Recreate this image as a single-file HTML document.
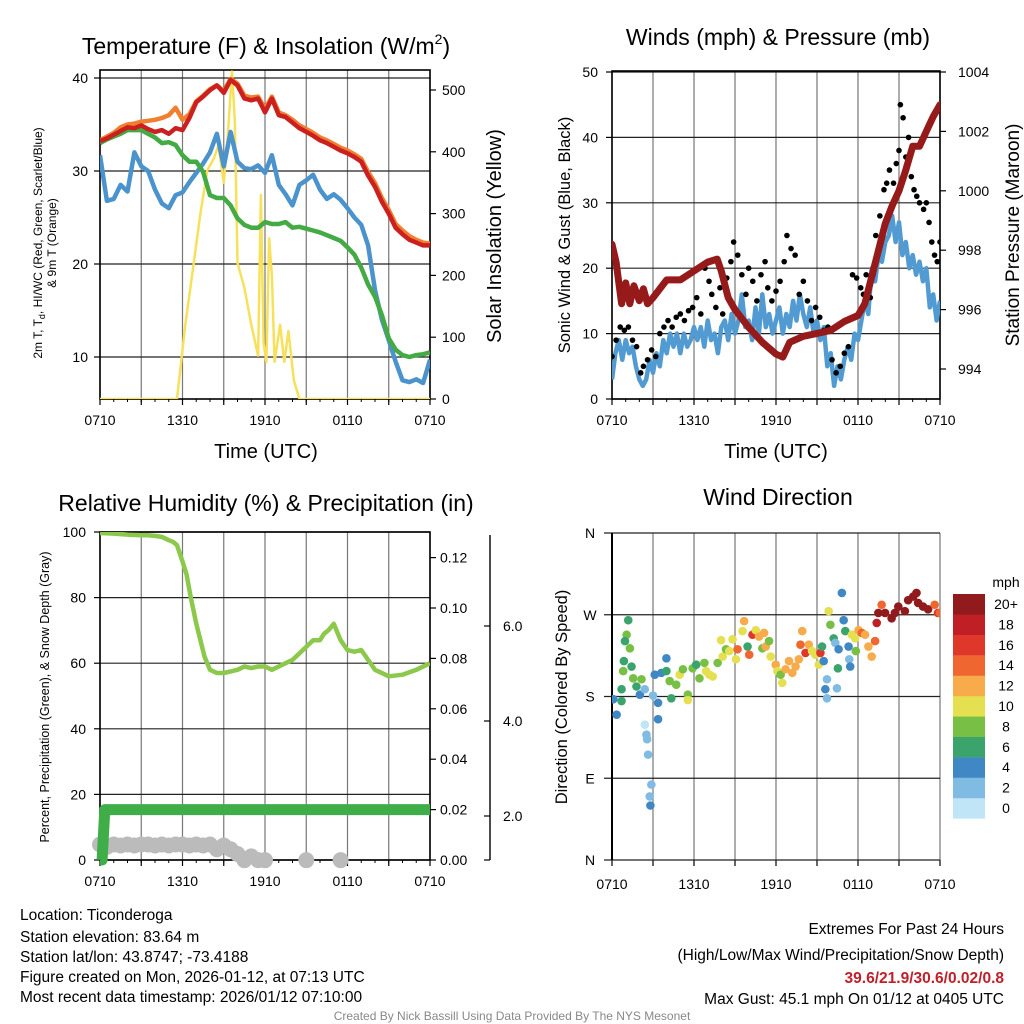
<!DOCTYPE html>
<html><head><meta charset="utf-8"><style>
html,body{margin:0;padding:0;background:#fff;}
svg{display:block;font-family:"Liberation Sans",Arial,sans-serif;}
</style></head><body>
<svg id="fig" width="1024" height="1024" viewBox="0 0 1024 1024" xmlns="http://www.w3.org/2000/svg">
<defs>
<clipPath id="c1"><rect x="100" y="70" width="330" height="329"/></clipPath>
<clipPath id="c2"><rect x="612" y="71" width="328" height="328"/></clipPath>
<clipPath id="c3"><rect x="100" y="532" width="330" height="328"/></clipPath>
<clipPath id="c4"><rect x="612" y="533" width="328" height="327"/></clipPath>
</defs>
<rect width="1024" height="1024" fill="#fff"/>
<text x="266" y="54" font-size="23" text-anchor="middle">Temperature (F) &amp; Insolation (W/m<tspan font-size="14" dy="-10">2</tspan><tspan dy="10">)</tspan></text>
<text x="778" y="45" font-size="23" text-anchor="middle">Winds (mph) &amp; Pressure (mb)</text>
<text x="266" y="511" font-size="23" text-anchor="middle">Relative Humidity (%) &amp; Precipitation (in)</text>
<text x="778" y="505" font-size="23" text-anchor="middle">Wind Direction</text>
<text transform="translate(42,243) rotate(-90)" font-size="12" text-anchor="middle">2m T, T<tspan font-size="9" dy="3">d</tspan><tspan dy="-3">, HI/WC (Red, Green, Scarlet/Blue)</tspan></text>
<text transform="translate(56,243) rotate(-90)" font-size="12" text-anchor="middle">&amp; 9m T (Orange)</text>
<text transform="translate(501,236) rotate(-90)" font-size="20" text-anchor="middle">Solar Insolation (Yellow)</text>
<text x="266" y="458" font-size="20" text-anchor="middle">Time (UTC)</text>
<text transform="translate(570,235) rotate(-90)" font-size="16.5" text-anchor="middle">Sonic Wind &amp; Gust (Blue, Black)</text>
<text transform="translate(1019,235) rotate(-90)" font-size="19" text-anchor="middle">Station Pressure (Maroon)</text>
<text x="776" y="458" font-size="20" text-anchor="middle">Time (UTC)</text>
<text transform="translate(49,697) rotate(-90)" font-size="12.5" text-anchor="middle">Percent, Precipitation (Green), &amp; Snow Depth (Gray)</text>
<text transform="translate(567,697) rotate(-90)" font-size="16.5" text-anchor="middle">Direction (Colored By Speed)</text>
<text x="1006" y="587" font-size="14" text-anchor="middle">mph</text>
<g font-size="15.5">
<text x="20" y="920">Location: Ticonderoga</text>
<text x="20" y="942">Station elevation: 83.64 m</text>
<text x="20" y="962">Station lat/lon: 43.8747; -73.4188</text>
<text x="20" y="982">Figure created on Mon, 2026-01-12, at 07:13 UTC</text>
<text x="20" y="1002">Most recent data timestamp: 2026/01/12 07:10:00</text>
</g>
<g font-size="15.5" text-anchor="end">
<text x="1004" y="934">Extremes For Past 24 Hours</text>
<text x="1004" y="960">(High/Low/Max Wind/Precipitation/Snow Depth)</text>
<text x="1004" y="983" fill="#c0202a" font-weight="bold">39.6/21.9/30.6/0.02/0.8</text>
<text x="1004" y="1004">Max Gust: 45.1 mph On 01/12 at 0405 UTC</text>
</g>
<text x="512" y="1020" font-size="12" fill="#888" text-anchor="middle">Created By Nick Bassill Using Data Provided By The NYS Mesonet</text>
</svg>
<script>
// ---------- data ----------
var xTickLabels = ["0710","1310","1910","0110","0710"];
var tT = [0,0.5,1,1.5,2,2.5,3,3.5,4,4.5,5,5.5,6,6.5,7,7.5,8,8.5,9,9.5,10,10.5,11,11.5,12,12.5,13,13.5,14,14.5,15,15.5,16,16.5,17,17.5,18,18.5,19,19.5,20,20.5,21,21.5,22,22.5,23,23.5,24];
var tempRed = [33.2,33.5,33.9,34.3,34.7,34.6,34.9,34.5,34.2,34.4,34,34.6,34.4,35.7,37.4,38,38.7,39.2,38.4,39.8,39.2,37.8,37.6,37.8,36.3,37.8,36,35.8,35.2,34.6,34.2,33.8,33.3,33,32.6,32.2,31.9,31.5,31,29.5,28.3,26.7,25.4,23.9,23.2,22.6,22.3,22,22];
var tempOrange = [33.3,33.7,34.1,34.7,35,35.1,35.3,35.4,35.5,35.7,36,36.8,35.5,36.1,37.5,38.1,38.8,39.2,38.6,39.9,39.4,38.1,37.9,38,36.7,38,36.3,36,35.5,34.9,34.5,34.1,33.6,33.3,32.9,32.5,32.2,31.8,31.3,29.9,28.7,27.1,25.8,24.3,23.6,23,22.6,22.3,22.2];
var dewGreen = [33,33.4,33.7,34,34.4,34.4,34.4,34,33.6,33,33.1,32.8,31.7,31,31,29.9,27.4,27.1,27.1,26.3,24.9,24.2,23.9,23.9,24.5,24.3,24.3,24.5,23.9,24,23.8,23.6,23.4,23.1,22.8,22.5,21.8,21,19.6,17.8,16.5,14.5,12,10.8,10.2,10,10.2,10.3,10.5];
var windChillBlue = [31.7,26.8,27,28.5,27.8,32,30.5,30,28,26.5,26,27.4,27.7,28.8,29.8,30.8,32,34,30.5,34.2,31,30.3,30.2,30.6,29.8,31.7,28.5,27.5,26.3,28.5,29,29.6,28,27,27.5,26.9,26,25,24.2,22,17.2,14,11.8,9.5,7.5,7.3,7.6,7.2,9.7];
var tSolar = [0,5.6,6.2,6.8,7.3,7.8,8.3,8.6,9,9.3,9.6,9.8,10,10.5,11,11.5,11.7,11.9,12.1,12.3,12.5,12.7,13.1,13.4,13.7,14.1,14.5,24];
var solar = [0,0,120,217,300,370,390,410,350,430,530,450,220,180,120,70,330,90,60,260,200,60,120,60,110,30,0,0];
var tempTicks = [10,20,30,40];
var solarTicks = [0,100,200,300,400,500];

var tW = [0,0.25,0.5,0.75,1,1.25,1.5,1.75,2,2.25,2.5,2.75,3,3.25,3.5,3.75,4,4.25,4.5,4.75,5,5.25,5.5,5.75,6,6.25,6.5,6.75,7,7.25,7.5,7.75,8,8.25,8.5,8.75,9,9.25,9.5,9.75,10,10.25,10.5,10.75,11,11.25,11.5,11.75,12,12.25,12.5,12.75,13,13.25,13.5,13.75,14,14.25,14.5,14.75,15,15.25,15.5,15.75,16,16.25,16.5,16.75,17,17.25,17.5,17.75,18,18.25,18.5,18.75,19,19.25,19.5,19.75,20,20.25,20.5,20.75,21,21.25,21.5,21.75,22,22.25,22.5,22.75,23,23.25,23.5,23.75,24];
var windSpeed = [3,7,9,6,9,7,8,5,3,2,3,6,4,7,5,9,7,10,8,10,7,10,8,9,11,9,11,8,12,9,10,7,11,12,9,13,10,12,16,11,12,9,14,10,16,11,13,10,12,14,10,13,11,15,12,16,13,11,14,10,12,9,11,5,7,2,5,3,6,8,6,10,9,12,15,13,20,18,22,21,24,25,28,24,27,22,24,20,22,19,21,18,20,14,16,12,15];
var tGust = [0,0.3,0.6,0.9,1.2,1.5,1.8,2.1,2.3,2.6,2.9,3.2,3.5,3.8,4.1,4.4,4.7,5,5.3,5.6,5.9,6.2,6.5,6.8,7.1,7.3,7.6,7.9,8.1,8.4,8.7,8.9,9.2,9.5,9.8,10,10.3,10.6,10.9,11.2,11.4,11.7,12,12.3,12.6,12.8,13.1,13.4,13.7,14,14.3,14.6,14.9,15.2,15.5,15.8,16.1,16.4,16.7,17,17.3,17.6,17.9,18.2,18.4,18.6,18.9,19.1,19.3,19.6,19.9,20.1,20.3,20.6,20.8,21,21.1,21.3,21.5,21.7,21.9,22.1,22.3,22.5,22.8,23,23.2,23.4,23.6,23.8,24];
var gust = [6.5,9,11,10.5,11,9,8,4,5,6,7.5,6.5,10,11,12,11,12.5,13,12,13.5,14,15.5,13,20,18,16,14,17,13,18.5,21,24,22,19,16,20,18,15,19,21,17,15,16.5,18,21,25,23,22,16,18,15,12,14,12.5,10.5,11,6,4,5,7,8,19,18.5,17,16,19,15.5,19,25,28,32,33,35,33,36,38,45,43,37,40,34,32,31,30,29,30,27,24,22,21,24];
var tP = [0,0.3,0.7,1,1.3,1.6,2,2.3,2.6,3,4,5,6,7,7.7,8,8.5,9,10,11,12,12.5,13,14,15,16,17,18,18.5,19,19.5,20,20.5,21,21.5,22,22.5,23,23.5,24];
var pressure = [998.2,997.6,996.2,996.9,996.2,996.8,996.3,996.7,996.2,996.4,997,997,997.3,997.6,997.7,997.3,996.4,996,995.4,994.9,994.5,994.4,994.9,995.1,995.2,995.3,995.6,995.8,996.2,997.1,998,998.9,999.5,1000,1000.7,1001.5,1001.5,1002,1002.5,1002.9];
var windTicks = [0,10,20,30,40,50];
var pressureTicks = [994,996,998,1000,1002,1004];

var tR = [0,1,2,3,3.5,4,4.5,5,5.3,5.6,6,6.3,6.6,7,7.3,7.6,8,8.5,9,9.5,10,10.5,11,11.5,12,12.5,13,13.5,14,14.5,15,15.5,16,16.3,16.6,17,17.5,18,18.5,19,19.5,20,21,22,23,24];
var rh = [99.7,99.5,99.2,99,99,98.8,98.5,97.5,97,96,91,87,80,72,67,62,58,57,57,57.5,58,59,58.5,59,59,58,59,60,61,63,65,67,67,69,70,72,67,64,63.5,64,61,58,56,56.5,58,60];
var tPrecip = [0,0.15,0.35,24];
var precip = [0,0,0.02,0.02];
var tSnow = [0,0.5,1,1.5,2,2.5,3,3.5,4,4.5,5,5.5,6,6.5,7,7.5,8,8.5,9,9.5,10,10.5,11,11.5,12,15,17.5];
var snow = [1.4,1.35,1.4,1.38,1.4,1.38,1.4,1.4,1.38,1.4,1.38,1.4,1.4,1.38,1.4,1.38,1.4,1.3,1.38,1.3,1.2,1.07,1.15,1.07,1.07,1.07,1.07];
var rhTicks = [0,20,40,60,80,100];
var precipTicks = [0,0.02,0.04,0.06,0.08,0.10,0.12];
var snowTicks = [2,4,6];

var tDir = [0.1,0.34,0.7,0.7,1.19,1.07,0.95,1.31,0.87,1.43,0.82,1.55,1.79,2.16,2.04,2.4,2.4,2.52,2.57,2.64,2.88,2.76,2.81,3.0,3.13,3.37,3.37,3.61,3.98,3.98,4.22,4.34,4.7,4.95,5.19,5.55,5.55,5.9,6.16,6.4,6.76,6.88,7.13,7.37,7.73,7.98,8.1,8.34,8.58,8.82,9.07,9.19,9.55,9.67,9.92,10.04,10.28,10.52,10.76,11.0,11.13,11.25,11.49,11.61,11.98,12.1,12.34,12.46,12.7,12.95,13.19,13.43,13.67,13.79,13.92,14.16,14.4,14.64,14.88,15.13,15.25,15.37,15.49,15.85,15.98,16.22,16.34,16.46,15.61,15.73,15.73,16.58,16.53,16.82,16.95,17.07,17.31,17.36,17.43,17.55,17.79,17.84,18.04,18.28,18.52,18.76,19.0,19.25,19.37,19.73,19.49,19.98,20.46,20.7,20.95,21.43,21.67,22.04,22.28,22.4,22.76,23.13,23.61,23.85,24];
var direction = [177,160,175,188,264,248,241,233,219,213,208,200,191,199,182,188,149,138,133,116,83,70,60,181,204,173,155,206,222,208,197,178,193,204,210,182,176,211,215,200,217,208,204,202,217,242,224,232,230,243,221,232,252,263,235,226,248,253,246,233,250,235,241,224,215,208,204,195,210,219,206,213,221,237,252,228,237,230,226,215,228,235,219,274,259,244,239,189,188,199,178,232,211,294,264,252,235,221,213,248,244,230,253,250,248,235,224,241,261,281,272,272,266,272,279,274,286,290,294,283,279,276,281,272,272];
var dirSpeed = [4,4,6,6,6,8,6,8,6,6,8,8,6,8,4,2,0,2,2,2,2,2,4,2,4,4,4,4,4,6,8,6,8,10,8,8,10,8,6,8,8,10,10,10,8,10,10,8,10,10,10,14,10,12,6,14,16,10,12,8,12,12,8,10,12,10,8,10,12,12,12,12,12,14,12,16,12,10,10,10,16,6,4,10,8,6,2,2,4,2,2,4,6,4,4,6,4,2,4,10,10,8,12,14,12,12,12,14,18,14,20,20,20,20,20,20,20,20,20,20,20,20,14,16,14];
var dirTicks = ["N","E","S","W","N"];
var speedBins = [0,2,4,6,8,10,12,14,16,18,20];
var speedLabels = ["0","2","4","6","8","10","12","14","16","18","20+"];
var speedColors = ["#bfe5f7","#80bbe3","#3f88c5","#3ba46c","#77bf45","#e4e050","#f8ab4a","#ef6630","#e0372b","#c01f25","#911a1d"];

// ---------- helpers ----------
var NS = "http://www.w3.org/2000/svg";
var svg = document.getElementById('fig');
function add(parent, tag, attrs, name, inter) {
  var el = document.createElementNS(NS, tag);
  for (var k in attrs) el.setAttribute(k, attrs[k]);
  
  
  parent.appendChild(el);
  return el;
}
function path(xs, ys, fx, fy) {
  var d = "";
  for (var i = 0; i < xs.length; i++) d += (i ? "L" : "M") + fx(xs[i]).toFixed(1) + "," + fy(ys[i]).toFixed(1);
  return d;
}
function x1(t) { return 100 + t * 330 / 24; }
function yTemp(v) { return 357 - (v - 10) * 9.3; }
function ySolar(s) { return 399 - s * 0.618; }
function x2(t) { return 612 + t * 328 / 24; }
function yWind(v) { return 399 - v * 6.54; }
function yPres(p) { return 369 - (p - 994) * 29.7; }
function yRH(v) { return 860 - v * 3.28; }
function yPrecip(p) { return 860 - p * 2520; }
function ySnow(s) { return 911 - s * 47.5; }
function yDir(d) { return 860 - d * 327 / 360; }

function panelFrame(name, L, T, R, B, fx, yTicksVals, fy) {
  var g = add(svg, 'g', {}, name + '-axes');
  for (var i = 0; i <= 8; i++) {
    var x = fx(i * 3);
    add(g, 'line', {x1: x, y1: T, x2: x, y2: B, stroke: '#777', 'stroke-width': 1.2}, name + '-vgrid');
    add(g, 'line', {x1: x, y1: B, x2: x, y2: B + 6, stroke: '#000', 'stroke-width': 1.2}, name + '-xtick');
  }
  for (var j = 0; j < 24; j++) {
    var xm = fx(j);
    add(g, 'line', {x1: xm, y1: B, x2: xm, y2: B + 3, stroke: '#000', 'stroke-width': 1}, name + '-xminor');
  }
  for (var k = 0; k < xTickLabels.length; k++) {
    var tl = add(g, 'text', {x: fx(k * 6), y: B + 26, 'font-size': 14, 'text-anchor': 'middle'}, name + '-xtick-label');
    tl.textContent = xTickLabels[k];
  }
  yTicksVals.forEach(function (v) {
    var y = fy(v);
    add(g, 'line', {x1: L, y1: y, x2: R, y2: y, stroke: '#222', 'stroke-width': 1.2}, name + '-hgrid');
    add(g, 'line', {x1: L - 6, y1: y, x2: L, y2: y, stroke: '#000', 'stroke-width': 1.2}, name + '-ytick');
  });
  add(g, 'rect', {x: L, y: T, width: R - L, height: B - T, fill: 'none', stroke: '#000', 'stroke-width': 1.6}, name + '-frame');
  return g;
}
function leftLabels(g, name, vals, fy, x) {
  vals.forEach(function (v) {
    var t = add(g, 'text', {x: x, y: fy(v) + 5, 'font-size': 14, 'text-anchor': 'end'}, name);
    t.textContent = v;
  });
}
function rightAxis(g, name, vals, fy, xAxis, xLab, fmt) {
  vals.forEach(function (v) {
    var y = fy(v);
    add(g, 'line', {x1: xAxis, y1: y, x2: xAxis + 6, y2: y, stroke: '#000', 'stroke-width': 1.2}, name + '-tick');
    var t = add(g, 'text', {x: xLab, y: y + 5, 'font-size': 14, 'text-anchor': 'start'}, name + '-label');
    t.textContent = fmt ? fmt(v) : v;
  });
}

// ---------- panel 1 ----------
var g1 = panelFrame('temperature-panel', 100, 70, 430, 399, x1, tempTicks, yTemp);
leftLabels(g1, 'temp-tick-label', tempTicks, yTemp, 88);
rightAxis(g1, 'solar-axis', solarTicks, ySolar, 430, 442);
var d1 = add(svg, 'g', {'clip-path': 'url(#c1)'}, 'temperature-series');
add(d1, 'path', {d: path(tSolar, solar, x1, ySolar), fill: 'none', stroke: '#f7e15a', 'stroke-width': 2.5, 'stroke-linejoin': 'round'}, 'solar-line');
add(d1, 'path', {d: path(tT, windChillBlue, x1, yTemp), fill: 'none', stroke: '#4b93cc', 'stroke-width': 4.5, 'stroke-linejoin': 'round'}, 'windchill-line');
add(d1, 'path', {d: path(tT, dewGreen, x1, yTemp), fill: 'none', stroke: '#44aa44', 'stroke-width': 4.5, 'stroke-linejoin': 'round'}, 'dewpoint-line');
add(d1, 'path', {d: path(tT, tempOrange, x1, yTemp), fill: 'none', stroke: '#f08030', 'stroke-width': 4.5, 'stroke-linejoin': 'round'}, 'temp-9m-line');
add(d1, 'path', {d: path(tT, tempRed, x1, yTemp), fill: 'none', stroke: '#cc1f1f', 'stroke-width': 4.5, 'stroke-linejoin': 'round'}, 'temp-2m-line');

// ---------- panel 2 ----------
var g2 = panelFrame('winds-panel', 612, 71, 940, 399, x2, windTicks, yWind);
leftLabels(g2, 'wind-tick-label', windTicks, yWind, 598);
rightAxis(g2, 'pressure-axis', pressureTicks, yPres, 940, 958);
var d2 = add(svg, 'g', {'clip-path': 'url(#c2)'}, 'winds-series');
add(d2, 'path', {d: path(tW, windSpeed, x2, yWind), fill: 'none', stroke: '#519bd2', 'stroke-width': 4.5, 'stroke-linejoin': 'round'}, 'wind-speed-line');
for (var i = 0; i < tGust.length; i++) {
  var gp = add(d2, 'circle', {cx: x2(tGust[i]), cy: yWind(gust[i]), r: 2.8, fill: '#000'}, 'gust-point');
  
}
add(d2, 'path', {d: path(tP, pressure, x2, yPres), fill: 'none', stroke: '#961a1a', 'stroke-width': 7, 'stroke-linejoin': 'round', 'stroke-linecap': 'round'}, 'pressure-line');

// ---------- panel 3 ----------
var g3 = panelFrame('humidity-panel', 100, 532, 430, 860, x1, rhTicks, yRH);
leftLabels(g3, 'rh-tick-label', rhTicks, yRH, 86);
rightAxis(g3, 'precip-axis', precipTicks, yPrecip, 430, 440, function (v) { return v.toFixed(2); });
add(g3, 'line', {x1: 490, y1: 535, x2: 490, y2: 860, stroke: '#000', 'stroke-width': 1.4}, 'snow-axis-line');
snowTicks.forEach(function (v) {
  var y = ySnow(v);
  var tk = add(g3, 'line', {x1: 484, y1: y, x2: 490, y2: y, stroke: '#000', 'stroke-width': 1.2}, 'snow-axis-tick');
  
  var tx = add(g3, 'text', {x: 503, y: y + 5, 'font-size': 14}, 'snow-axis-label');
  tx.textContent = v.toFixed(1);
});
add(g3, 'line', {x1: 484, y1: 860, x2: 490, y2: 860, stroke: '#000', 'stroke-width': 1.2}, 'snow-axis-tick');
var d3 = add(svg, 'g', {}, 'humidity-series');
for (var s = 0; s < tSnow.length; s++) {
  var sc = add(d3, 'circle', {cx: x1(tSnow[s]), cy: ySnow(snow[s]), r: 8, fill: '#bbb'}, 'snow-depth-point');
  
}
var d3c = add(svg, 'g', {'clip-path': 'url(#c3)'}, 'humidity-lines');
add(d3c, 'path', {d: path(tR, rh, x1, yRH), fill: 'none', stroke: '#8cc84b', 'stroke-width': 4.5, 'stroke-linejoin': 'round'}, 'rh-line');
add(svg, 'path', {d: path(tPrecip, precip, x1, yPrecip), fill: 'none', stroke: '#3fae49', 'stroke-width': 11, 'stroke-linejoin': 'round'}, 'precip-line');

// ---------- panel 4 ----------
var g4 = add(svg, 'g', {}, 'direction-panel-axes');
for (var i4 = 0; i4 <= 8; i4++) {
  var xx = x2(i4 * 3);
  add(g4, 'line', {x1: xx, y1: 533, x2: xx, y2: 860, stroke: '#777', 'stroke-width': 1.2}, 'direction-vgrid');
  add(g4, 'line', {x1: xx, y1: 860, x2: xx, y2: 866, stroke: '#000', 'stroke-width': 1.2}, 'direction-xtick');
}
for (var k4 = 0; k4 < xTickLabels.length; k4++) {
  var tl4 = add(g4, 'text', {x: x2(k4 * 6), y: 889, 'font-size': 14, 'text-anchor': 'middle'}, 'direction-xtick-label');
  tl4.textContent = xTickLabels[k4];
}
for (var q = 0; q < dirTicks.length; q++) {
  var yq = yDir(q * 90);
  add(g4, 'line', {x1: 604, y1: yq, x2: 940, y2: yq, stroke: '#222', 'stroke-width': 1.2}, 'direction-hgrid');
  var lq = add(g4, 'text', {x: 590, y: yq + 5, 'font-size': 14, 'text-anchor': 'middle'}, 'direction-tick-label');
  lq.textContent = dirTicks[q];
}
add(g4, 'line', {x1: 612, y1: 533, x2: 612, y2: 860, stroke: '#000', 'stroke-width': 2}, 'direction-y-axis');
var d4 = add(svg, 'g', {'clip-path': 'url(#c4)'}, 'direction-points');
function speedColor(v) {
  var idx = 0;
  for (var b = 0; b < speedBins.length; b++) if (v >= speedBins[b]) idx = b;
  return speedColors[idx];
}
for (var p = 0; p < tDir.length; p++) {
  var dp = add(d4, 'circle', {cx: x2(tDir[p]), cy: yDir(direction[p]), r: 4.3, fill: speedColor(dirSpeed[p])}, 'direction-point');
  
}
var cb = add(svg, 'g', {}, 'speed-colorbar');
for (var c = 0; c < speedColors.length; c++) {
  var yc = 594 + (speedColors.length - 1 - c) * 20.4;
  var box = add(cb, 'rect', {x: 953, y: yc, width: 32, height: 20.6, fill: speedColors[c]}, 'colorbar-box');
  
  var lab = add(cb, 'text', {x: 1006, y: yc + 15, 'font-size': 14, 'text-anchor': 'middle'}, 'colorbar-label');
  lab.textContent = speedLabels[c];
}
</script>
</body></html>
